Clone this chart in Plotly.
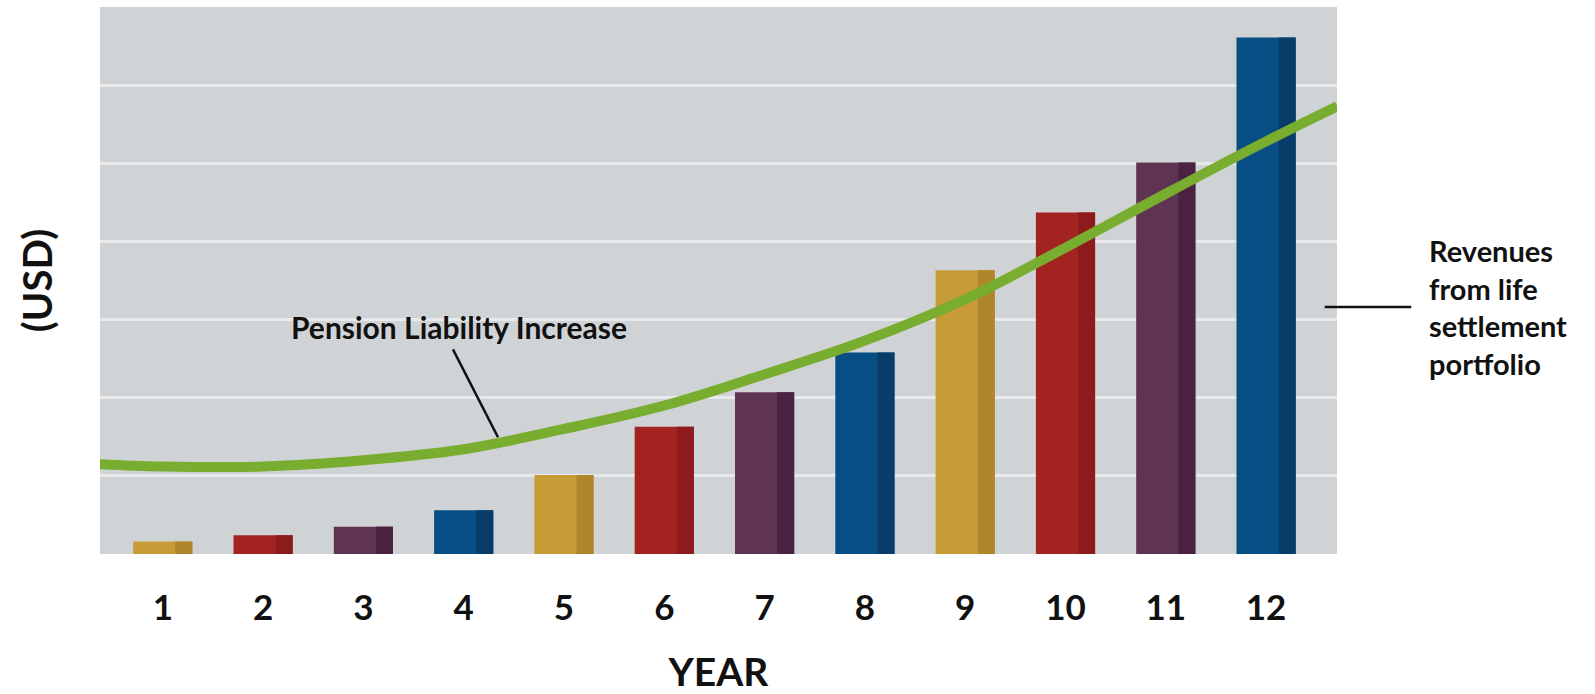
import plotly.graph_objects as go

# ---- data ----
years = [1, 2, 3, 4, 5, 6, 7, 8, 9, 10, 11, 12]
tick_labels = ["1", "2", "3", "4", "5", "6", "7", "8", "9", "10", "11", "12"]
revenues = [0.16, 0.24, 0.35, 0.56, 1.01, 1.63, 2.07, 2.58, 3.63, 4.37, 5.01, 6.61]
bar_colors = ["#C79B36", "#A32320", "#5F3453", "#064E83"] * 3
bar_dark = ["#B0862B", "#8E1B1B", "#4B2241", "#083D6A"] * 3

curve_x = [0.37, 1, 2, 3, 4, 5, 6, 7, 8, 9, 10, 11, 12, 12.71]
curve_y = [1.15, 1.12, 1.12, 1.20, 1.34, 1.60, 1.90, 2.30, 2.73, 3.26, 3.92, 4.61, 5.28, 5.73]

FONT = "Lato"

fig = go.Figure()

fig.add_trace(go.Bar(
    x=years, y=revenues, width=0.59, offset=-0.295,
    marker=dict(color=bar_colors, line=dict(width=0)),
    hoverinfo="skip", showlegend=False,
))
fig.add_trace(go.Bar(
    x=years, y=revenues, width=0.17, offset=0.125,
    marker=dict(color=bar_dark, line=dict(width=0)),
    hoverinfo="skip", showlegend=False,
))
fig.add_trace(go.Scatter(
    x=curve_x, y=curve_y, mode="lines",
    line=dict(color="#78AD2F", width=10, shape="spline", smoothing=1.0),
    hoverinfo="skip", showlegend=False, cliponaxis=True,
))

fig.update_layout(
    width=1595, height=694,
    margin=dict(l=100, r=258, t=7, b=140),
    paper_bgcolor="white",
    plot_bgcolor="#D0D3D6",
    barmode="overlay",
    font=dict(family=FONT, color="#111111"),
    xaxis=dict(
        range=[0.374, 12.707],
        tickvals=years, ticktext=tick_labels,
        tickfont=dict(family=FONT, size=35, color="#111111", weight="bold"),
        ticklabelstandoff=30,
        showgrid=False, zeroline=False, showline=False, ticks="",
        title=dict(text="YEAR", font=dict(family=FONT, size=39, color="#111111", weight="bold"), standoff=32),
        fixedrange=True,
    ),
    yaxis=dict(
        range=[0, 7], dtick=1,
        showticklabels=False, ticks="",
        showgrid=True, gridcolor="#E8E9EB", gridwidth=2.5,
        zeroline=False, showline=False,
        title=dict(text="(USD)", font=dict(family=FONT, size=40, color="#111111", weight="bold"), standoff=34),
        fixedrange=True,
    ),
    annotations=[
        dict(text="Pension Liability Increase", x=3.95, y=2.90, xref="x", yref="y",
             showarrow=False, xanchor="center", yanchor="middle",
             font=dict(family=FONT, size=30, color="#111111", weight="bold")),
        dict(text="Revenues<br>from life<br>settlement<br>portfolio", x=1.0728, y=0.452,
             xref="paper", yref="paper", showarrow=False, xanchor="left", yanchor="middle",
             align="left", font=dict(family=FONT, size=29, color="#111111", weight="bold")),
    ],
    shapes=[
        dict(type="line", xref="x", yref="y", x0=3.893, y0=2.618, x1=4.342, y1=1.494,
             line=dict(color="#111111", width=2.5)),
        dict(type="line", xref="paper", yref="paper", x0=0.990, y0=0.4516, x1=1.060, y1=0.4516,
             line=dict(color="#111111", width=2.5)),
    ],
)

fig.write_html("out.html")
